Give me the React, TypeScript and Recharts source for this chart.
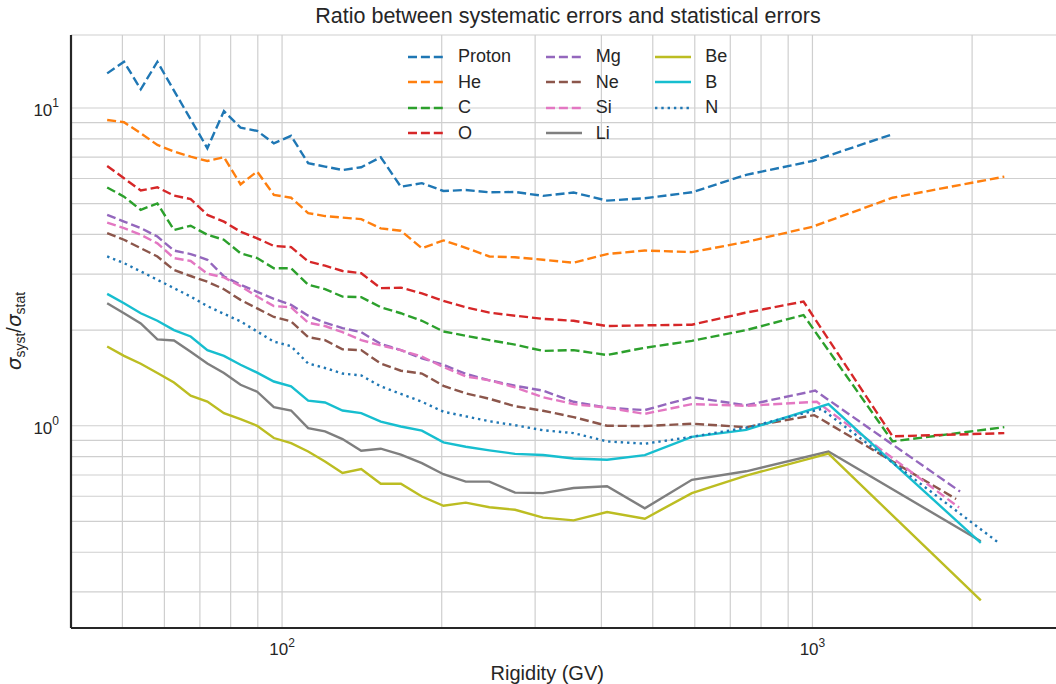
import React from 'react';
import { LineChart, Line, XAxis, YAxis, CartesianGrid } from 'recharts';

// bin rigidities (GV) shared by all species up to ~600 GV
const rigidity = [
  46.8, 50.35, 54.15, 58.2, 62.55, 67.25, 72.3, 77.7, 83.5, 89.75, 96.5, 104, 112, 120.5,
  130, 141, 153.5, 167.5, 183.5, 201.5, 222, 246, 275, 310.5, 354.5, 410, 483, 592.5,
];

const proton = [12.85, 13.98, 11.45, 13.98, 11.34, 9.21, 7.47, 9.78, 8.67, 8.47, 7.74, 8.17, 6.7, 6.54, 6.38, 6.51, 7.0, 5.65, 5.8, 5.48, 5.52, 5.43, 5.44, 5.29, 5.42, 5.11, 5.2, 5.43];
const he = [9.17, 9.02, 8.33, 7.65, 7.29, 7.03, 6.81, 7.0, 5.75, 6.31, 5.33, 5.22, 4.67, 4.57, 4.52, 4.47, 4.18, 4.11, 3.62, 3.83, 3.63, 3.41, 3.39, 3.33, 3.26, 3.47, 3.56, 3.52];
const carbon = [5.62, 5.26, 4.78, 5.01, 4.13, 4.26, 3.99, 3.85, 3.49, 3.37, 3.13, 3.13, 2.78, 2.69, 2.55, 2.54, 2.36, 2.26, 2.14, 1.98, 1.92, 1.86, 1.8, 1.72, 1.73, 1.67, 1.76, 1.85];
const oxygen = [6.57, 6.01, 5.5, 5.63, 5.3, 5.17, 4.61, 4.39, 4.08, 3.89, 3.68, 3.65, 3.29, 3.19, 3.07, 3.02, 2.71, 2.72, 2.61, 2.47, 2.36, 2.27, 2.22, 2.17, 2.14, 2.06, 2.07, 2.08];
const mg = [4.61, 4.39, 4.19, 3.94, 3.56, 3.47, 3.33, 2.95, 2.78, 2.64, 2.51, 2.4, 2.22, 2.11, 2.03, 1.97, 1.81, 1.73, 1.63, 1.555, 1.457, 1.39, 1.336, 1.29, 1.19, 1.14, 1.12, 1.23];
const ne = [4.04, 3.85, 3.62, 3.41, 3.09, 2.96, 2.84, 2.69, 2.49, 2.34, 2.2, 2.13, 1.9, 1.86, 1.74, 1.73, 1.57, 1.49, 1.46, 1.336, 1.265, 1.216, 1.152, 1.115, 1.065, 1.0, 0.998, 1.015];
const si = [4.36, 4.19, 3.99, 3.75, 3.37, 3.3, 3.01, 2.93, 2.75, 2.55, 2.38, 2.36, 2.11, 2.06, 1.97, 1.86, 1.79, 1.73, 1.65, 1.53, 1.43, 1.39, 1.32, 1.23, 1.17, 1.14, 1.09, 1.17];
const li = [2.43, 2.26, 2.1, 1.87, 1.855, 1.71, 1.57, 1.465, 1.346, 1.28, 1.145, 1.117, 0.983, 0.96, 0.908, 0.835, 0.847, 0.811, 0.763, 0.704, 0.667, 0.667, 0.616, 0.614, 0.637, 0.645, 0.55, 0.676];
const be = [1.776, 1.66, 1.567, 1.465, 1.368, 1.243, 1.192, 1.096, 1.05, 1.0, 0.915, 0.882, 0.83, 0.772, 0.71, 0.731, 0.657, 0.657, 0.599, 0.56, 0.573, 0.554, 0.544, 0.514, 0.504, 0.535, 0.51, 0.614];
const boron = [2.6, 2.43, 2.26, 2.14, 2.0, 1.91, 1.73, 1.66, 1.556, 1.47, 1.378, 1.33, 1.2, 1.184, 1.117, 1.096, 1.03, 0.995, 0.965, 0.887, 0.859, 0.837, 0.816, 0.809, 0.789, 0.782, 0.808, 0.923];
const nitrogen = [3.41, 3.25, 3.06, 2.88, 2.71, 2.55, 2.38, 2.25, 2.13, 1.98, 1.84, 1.78, 1.57, 1.52, 1.46, 1.44, 1.33, 1.26, 1.19, 1.107, 1.071, 1.033, 1.004, 0.968, 0.948, 0.893, 0.878, 0.923];

// high rigidity bins differ per species
const protonTailR = [750, 1000, 1416];
const protonTail = [6.16, 6.81, 8.27];
const heTailR = [750, 1000, 1416, 2300];
const heTail = [3.79, 4.23, 5.22, 6.08];
const coTailR = [750, 962, 1416, 2300];
const carbonTail = [2.0, 2.23, 0.893, 0.99];
const oxygenTail = [2.27, 2.46, 0.926, 0.948];
const mgTailR = [750, 1012, 1898];
const mgTail = [1.16, 1.29, 0.621];
const neTailR = [750, 1008, 1866];
const neTail = [0.99, 1.08, 0.588];
const siTailR = [750, 1019, 1890];
const siTail = [1.156, 1.19, 0.553];
const lightTailR = [750, 1072, 2077];
const liTail = [0.719, 0.83, 0.433];
const beTail = [0.697, 0.817, 0.282];
const boronTail = [0.971, 1.17, 0.428];
const nTailR = [750, 1040, 2258];
const nitrogenTail = [0.986, 1.13, 0.425];

const xTicks = [50, 60, 70, 80, 90, 100, 200, 300, 400, 500, 600, 700, 800, 900, 1000, 2000];
const yTicks = [0.3, 0.4, 0.5, 0.6, 0.7, 0.8, 0.9, 1, 2, 3, 4, 5, 6, 7, 8, 9, 10];
const xExp: Record<number, string> = { 100: '2', 1000: '3' };
const yExp: Record<number, string> = { 1: '0', 10: '1' };

const TEXT = '#262626';
const FONT = '"Liberation Sans", Arial, Helvetica, sans-serif';
const DASH = '9 3.9';
const DOT = '2.4 3.9';
const LW = 2.4;

const toPoints = (vals: number[], tailR: number[], tailV: number[]) =>
  rigidity.map((r, i) => ({ r, v: vals[i] })).concat(tailR.map((r, i) => ({ r, v: tailV[i] })));

const series = [
  { name: 'Proton', color: '#1f77b4', dash: DASH, data: toPoints(proton, protonTailR, protonTail) },
  { name: 'He', color: '#ff7f0e', dash: DASH, data: toPoints(he, heTailR, heTail) },
  { name: 'C', color: '#2ca02c', dash: DASH, data: toPoints(carbon, coTailR, carbonTail) },
  { name: 'O', color: '#d62728', dash: DASH, data: toPoints(oxygen, coTailR, oxygenTail) },
  { name: 'Mg', color: '#9467bd', dash: DASH, data: toPoints(mg, mgTailR, mgTail) },
  { name: 'Ne', color: '#8c564b', dash: DASH, data: toPoints(ne, neTailR, neTail) },
  { name: 'Si', color: '#e377c2', dash: DASH, data: toPoints(si, siTailR, siTail) },
  { name: 'Li', color: '#7f7f7f', dash: undefined, data: toPoints(li, lightTailR, liTail) },
  { name: 'Be', color: '#bcbd22', dash: undefined, data: toPoints(be, lightTailR, beTail) },
  { name: 'B', color: '#17becf', dash: undefined, data: toPoints(boron, lightTailR, boronTail) },
  { name: 'N', color: '#1f77b4', dash: DOT, data: toPoints(nitrogen, nTailR, nitrogenTail) },
];

const XTick = (props: any) => {
  const { x, y, payload } = props;
  const e = xExp[payload.value];
  if (!e) return <g />;
  return (
    <text x={x} y={y + 27} textAnchor="middle" fill={TEXT} fontSize={17} fontFamily={FONT}>
      <tspan>10</tspan>
      <tspan dy={-8.5} fontSize={12}>{e}</tspan>
    </text>
  );
};

const YTick = (props: any) => {
  const { x, y, payload } = props;
  const e = yExp[payload.value];
  if (!e) return <g />;
  return (
    <text x={x - 12} y={y + 8} textAnchor="end" fill={TEXT} fontSize={17} fontFamily={FONT}>
      <tspan>10</tspan>
      <tspan dy={-8.5} fontSize={12}>{e}</tspan>
    </text>
  );
};

const YLabel = () => (
  <text
    x={21}
    y={331}
    transform="rotate(-90, 21, 331)"
    textAnchor="middle"
    fill={TEXT}
    fontSize={20}
    fontFamily={FONT}
  >
    <tspan fontStyle="italic" fontFamily="DejaVu Sans">σ</tspan>
    <tspan fontSize={14} dy={4}>syst</tspan>
    <tspan dy={-4}>/</tspan>
    <tspan fontStyle="italic" fontFamily="DejaVu Sans">σ</tspan>
    <tspan fontSize={14} dy={4}>stat</tspan>
  </text>
);

const colLeft = [408, 545.7, 655.3];

function ChartLegend() {
  return (
    <div style={{ position: 'absolute', left: 0, top: 0, fontFamily: FONT, fontSize: 18, color: TEXT }}>
      {series.map((s, i) => {
        const col = Math.floor(i / 4);
        const row = i % 4;
        return (
          <div
            key={s.name}
            style={{
              position: 'absolute', left: colLeft[col], top: 44.5 + row * 25.5, height: 24,
              display: 'flex', alignItems: 'center', whiteSpace: 'nowrap',
            }}
          >
            <svg width={36} height={6} style={{ display: 'block' }}>
              <line x1={0} y1={3} x2={36} y2={3} stroke={s.color} strokeWidth={LW} strokeDasharray={s.dash} />
            </svg>
            <span style={{ marginLeft: 14 }}>{s.name}</span>
          </div>
        );
      })}
    </div>
  );
}

export default function App() {
  return (
    <div style={{ position: 'fixed', left: 0, top: 0, width: 1056, height: 684, overflow: 'hidden', background: '#fff' }}>
      <div
        style={{
          position: 'absolute', left: 0, top: 4, width: 1136, textAlign: 'center',
          fontFamily: FONT, fontSize: 21.5, color: TEXT, whiteSpace: 'nowrap',
        }}
      >
        Ratio between systematic errors and statistical errors
      </div>
      <LineChart
        width={1070}
        height={684}
        margin={{ top: 35, right: 4.5, left: 0, bottom: 0 }}
        style={{ fontFamily: FONT, position: 'absolute', left: 0, top: 0 }}
      >
        <CartesianGrid stroke="#cfcfcf" strokeWidth={1.2} />
        <XAxis
          dataKey="r"
          type="number"
          scale="log"
          domain={[40, 3000]}
          allowDataOverflow
          ticks={xTicks}
          interval={0}
          tickFormatter={() => ''}
          tick={<XTick />}
          tickLine={false}
          tickSize={0}
          tickMargin={0}
          height={56}
          axisLine={{ stroke: TEXT, strokeWidth: 2.2 }}
          label={{ value: 'Rigidity (GV)', position: 'insideBottom', offset: 4, dx: -21, fill: TEXT, fontSize: 20, fontFamily: FONT }}
        />
        <XAxis
          xAxisId="top"
          orientation="top"
          type="number"
          scale="log"
          domain={[40, 3000]}
          allowDataOverflow
          tick={false}
          tickLine={false}
          height={0}
          axisLine={{ stroke: TEXT, strokeWidth: 2.2 }}
        />
        <YAxis
          type="number"
          scale="log"
          domain={[0.231, 16.97]}
          allowDataOverflow
          ticks={yTicks}
          interval={0}
          tickFormatter={() => ''}
          tick={<YTick />}
          tickLine={false}
          tickSize={0}
          tickMargin={0}
          width={71}
          axisLine={{ stroke: TEXT, strokeWidth: 2.2 }}
          label={<YLabel />}
        />
        {series.map((s) => (
          <Line
            key={s.name}
            data={s.data}
            dataKey="v"
            name={s.name}
            type="linear"
            stroke={s.color}
            strokeWidth={LW}
            strokeDasharray={s.dash}
            dot={false}
            activeDot={false}
            isAnimationActive={false}
          />
        ))}
      </LineChart>
      <ChartLegend />
    </div>
  );
}
